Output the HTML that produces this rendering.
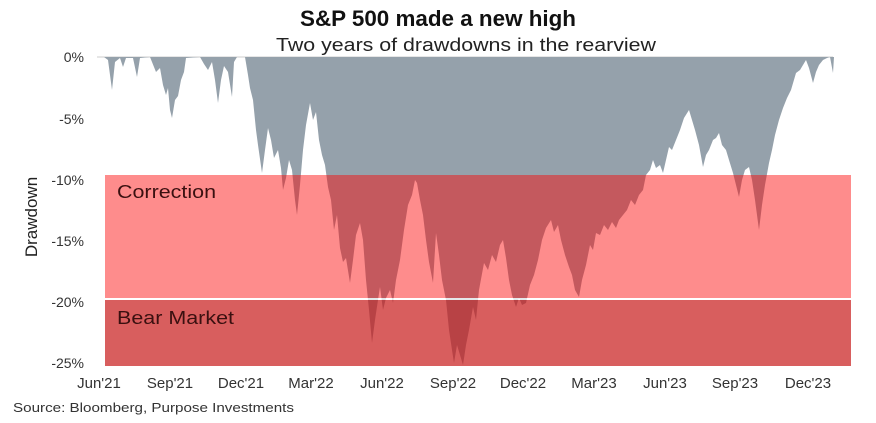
<!DOCTYPE html>
<html><head><meta charset="utf-8"><style>
body{margin:0;background:#fff;width:876px;height:418px;overflow:hidden;font-family:"Liberation Sans",sans-serif;}
</style></head><body>
<svg width="876" height="418" xmlns="http://www.w3.org/2000/svg" font-family="Liberation Sans, sans-serif">
<text x="300" y="26" textLength="276" lengthAdjust="spacingAndGlyphs" font-size="22" font-weight="bold" fill="#111">S&amp;P 500 made a new high</text>
<text x="276" y="51" textLength="380" lengthAdjust="spacingAndGlyphs" font-size="18" fill="#222">Two years of drawdowns in the rearview</text>
<line x1="97" y1="57" x2="833" y2="57" stroke="#ccc" stroke-width="1"/>
<path fill="#95a1ab" d="M97,57 L104,57 L108,60 L112,90 L115,62 L120,58 L123,67 L126,58 L133,58 L137,77 L140,58 L150,57 L152,62 L156,72 L160,68 L163,85 L166,95 L168,88 L170,110 L172,118 L175,100 L178,96 L181,80 L184,72 L186,58 L200,57 L204,64 L208,70 L212,62 L215,80 L218,103 L221,80 L224,66 L228,72 L232,97 L234,62 L237,57 L245,57 L248,75 L250,88 L253,100 L256,130 L258,145 L262,173 L265,150 L268,128 L271,140 L274,158 L278,150 L281,168 L283,190 L286,178 L289,160 L292,170 L295,200 L297,215 L300,185 L303,150 L306,125 L310,103 L313,120 L316,112 L319,140 L322,155 L325,165 L328,187 L331,200 L334,230 L337,215 L340,248 L343,262 L346,258 L350,283 L353,260 L356,235 L360,223 L363,240 L366,280 L369,310 L372,343 L375,320 L378,300 L380,287 L383,310 L386,298 L390,290 L393,303 L396,280 L400,260 L404,230 L408,205 L412,195 L415,180 L417,183 L420,200 L423,215 L426,240 L429,262 L433,283 L436,233 L439,255 L442,280 L446,300 L449,330 L452,350 L454,363 L457,345 L460,355 L463,365 L466,345 L469,330 L473,307 L476,320 L479,290 L484,263 L488,270 L492,255 L496,262 L500,245 L503,240 L506,258 L509,280 L512,295 L516,307 L519,298 L522,305 L526,303 L530,285 L534,275 L538,260 L542,240 L546,228 L551,220 L554,232 L558,225 L561,240 L565,255 L569,267 L572,275 L575,290 L579,297 L582,280 L586,265 L590,245 L593,250 L596,233 L600,235 L604,225 L608,230 L612,222 L616,228 L619,220 L623,215 L627,210 L631,200 L635,205 L639,195 L643,190 L646,175 L650,170 L653,160 L656,168 L660,165 L663,173 L666,160 L669,147 L672,150 L676,140 L680,130 L684,118 L689,110 L692,120 L695,130 L699,145 L703,167 L706,155 L709,150 L713,140 L716,138 L719,133 L722,145 L726,150 L729,160 L733,173 L736,185 L739,197 L742,180 L745,170 L749,167 L752,180 L755,200 L759,230 L762,205 L765,185 L769,163 L772,150 L775,135 L779,120 L783,108 L787,98 L791,90 L796,73 L800,70 L803,65 L806,60 L809,68 L813,83 L816,72 L819,65 L823,60 L827,58 L830,57 L833,73 L834,57 Z"/>
<rect x="105" y="175" width="746" height="123" fill="rgb(253,5,5)" fill-opacity="0.46"/>
<rect x="105" y="300" width="746" height="66" fill="rgb(200,25,25)" fill-opacity="0.7"/>
<line x1="105" y1="299" x2="851" y2="299" stroke="#fff" stroke-width="1.5"/>
<text x="117" y="198" textLength="99" lengthAdjust="spacingAndGlyphs" font-size="18" fill="#3a1010">Correction</text>
<text x="117" y="324" textLength="117" lengthAdjust="spacingAndGlyphs" font-size="18" fill="#3a1010">Bear Market</text>
<g font-size="14" fill="#333" text-anchor="end">
<text x="84" y="62">0%</text>
<text x="84" y="124">-5%</text>
<text x="84" y="185">-10%</text>
<text x="84" y="246">-15%</text>
<text x="84" y="307">-20%</text>
<text x="84" y="368">-25%</text>
</g>
<text transform="translate(37,217) rotate(-90)" font-size="17" fill="#222" text-anchor="middle">Drawdown</text>
<g font-size="15" fill="#333" text-anchor="middle">
<text x="99" y="388">Jun'21</text>
<text x="170" y="388">Sep'21</text>
<text x="241" y="388">Dec'21</text>
<text x="311" y="388">Mar'22</text>
<text x="382" y="388">Jun'22</text>
<text x="453" y="388">Sep'22</text>
<text x="523" y="388">Dec'22</text>
<text x="594" y="388">Mar'23</text>
<text x="665" y="388">Jun'23</text>
<text x="735" y="388">Sep'23</text>
<text x="808" y="388">Dec'23</text>
</g>
<text x="13" y="412" textLength="281" lengthAdjust="spacingAndGlyphs" font-size="13" fill="#333">Source: Bloomberg, Purpose Investments</text>
</svg>
</body></html>
